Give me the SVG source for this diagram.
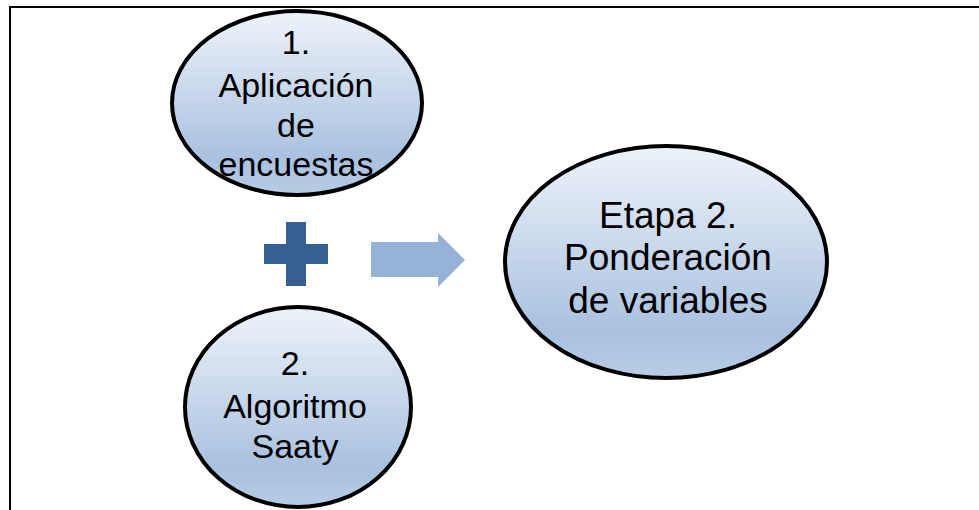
<svg xmlns="http://www.w3.org/2000/svg" width="979" height="510" viewBox="0 0 979 510">
<defs>
<linearGradient id="g" x1="0" y1="0" x2="0" y2="1">
<stop offset="0" stop-color="#eef3fa"/>
<stop offset="0.8" stop-color="#a9c1df"/>
<stop offset="1" stop-color="#b8cce4"/>
</linearGradient>
<style>
.node ellipse{fill:url(#g);stroke:#000;stroke-width:4}
.node text{font-family:"Liberation Sans",Arial,sans-serif;fill:#000;text-anchor:middle}
.frame{fill:none;stroke:#000;stroke-width:2}
</style>
</defs>
<rect width="979" height="510" fill="#fff"/>
<path class="frame" d="M10,510 V7 H979"/>
<g id="node1" class="node">
<ellipse cx="297" cy="103" rx="125" ry="92"/>
<text font-size="34"><tspan x="296" y="54">1.</tspan><tspan x="296" y="97">Aplicación</tspan><tspan x="296" y="137">de</tspan><tspan x="296" y="176">encuestas</tspan></text>
</g>
<g id="node2" class="node">
<ellipse cx="298" cy="407" rx="113" ry="100"/>
<text font-size="34"><tspan x="295" y="375">2.</tspan><tspan x="295" y="418">Algoritmo</tspan><tspan x="295" y="458">Saaty</tspan></text>
</g>
<g id="node3" class="node">
<ellipse cx="666" cy="262" rx="161" ry="116"/>
<text font-size="37"><tspan x="668" y="228">Etapa 2.</tspan><tspan x="668" y="270">Ponderación</tspan><tspan x="668" y="313">de variables</tspan></text>
</g>
<g id="connectors">
<path id="plus" d="M286,222 H306 V244 H328 V264 H306 V286 H286 V264 H264 V244 H286 Z" fill="#376092"/>
<path id="arrow" d="M371,242 H438 V233 L465,260 L438,287 V277 H371 Z" fill="#95b3d7"/>
</g>
</svg>
